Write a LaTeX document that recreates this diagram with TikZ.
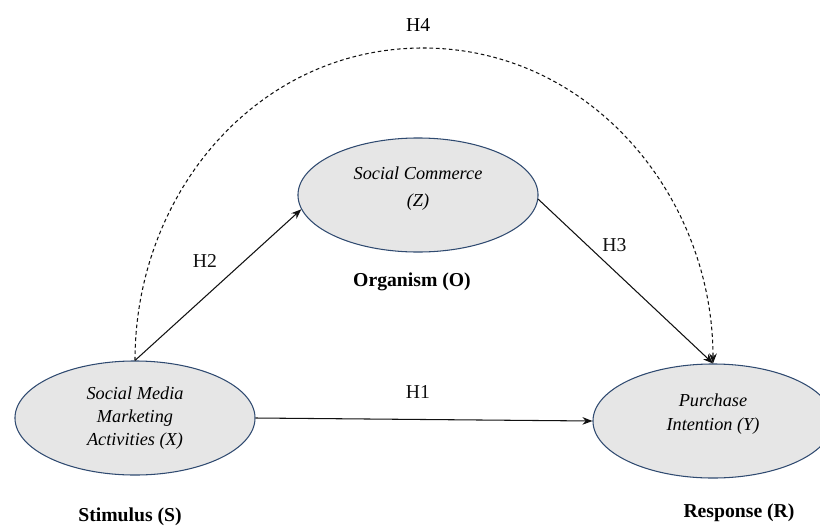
\documentclass[tikz,border=0pt]{standalone}
\usepackage{fontspec}
\setmainfont{Liberation Serif}
\usepackage{xcolor}
\usetikzlibrary{arrows.meta,positioning,shapes.geometric}
\definecolor{ink}{HTML}{111111}
\definecolor{rim}{HTML}{2F4A70}
\definecolor{shade}{HTML}{E6E6E6}
\tikzset{
  >={Stealth[length=2.5mm,width=1.9mm]},
  construct/.style={ellipse,draw=rim,fill=shade,line width=.75pt,minimum width=6cm,minimum height=2.85cm,align=center,font=\fontsize{13}{16.5}\selectfont\itshape},
  stage/.style={font=\fontsize{14}{16}\selectfont\bfseries},
  hyp/.style={font=\fontsize{14}{16}\selectfont},
  link/.style={->,line width=.75pt,color=ink},
  indirect/.style={line width=.75pt,color=ink,dash pattern=on 2.6pt off 2pt},
}

\begin{document}
\begin{tikzpicture}[x=0.025cm,y=-0.025cm]
  \useasboundingbox (0,0) rectangle (820,526);
  % constructs
  \node[construct] (smma) at (135,418) {Social Media\\Marketing\\Activities (X)};
  \node[construct] (comm) at (418,195) {Social Commerce\\[2.5pt](Z)\\[-4.5pt]};
  \node[construct] (intent) at (713,421) {Purchase\\[1pt]Intention (Y)\\[-3.7pt]};
  \coordinate (apex) at (423,48);
  % S-O-R stages
  \node[stage] (stim) at (130,517) {Stimulus (S)};
  \node[stage,below=0.38cm of comm,xshift=-0.15cm] (org) {Organism (O)};
  \node[stage] (resp) at (739,513) {Response (R)};
  % hypotheses
  \draw[link] (smma.east) -- node[hyp,above=0.4cm,xshift=-0.15cm] {H1} (intent.west);
  \draw[link] (smma.north) -- node[hyp,above left=0.3cm and -0.1cm] {H2} (comm.187);
  \draw[link] (comm.-2) -- node[hyp,above=0.62cm,xshift=-0.28cm] {H3} (intent.north);
  \draw[indirect] (smma.north) to[out=90,in=180,looseness=1] (apex);
  \draw[indirect,->] (apex) to[out=0,in=90,looseness=1] (intent.north);
  \node[hyp,above=0.3cm of apex,xshift=-0.12cm] (hfour) {H4};
\end{tikzpicture}
\end{document}
